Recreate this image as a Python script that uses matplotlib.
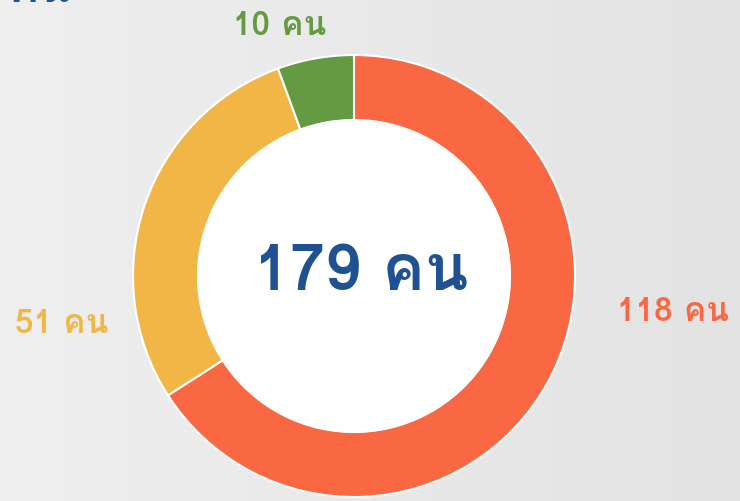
import numpy as np
import matplotlib
matplotlib.use("Agg")
from matplotlib import pyplot as plt
from matplotlib import font_manager

# pick a font that has Thai glyphs if there is one
thai = None
for f in font_manager.fontManager.ttflist:
    if "Thai" in f.name or f.name in ("Loma", "Garuda", "Tlwg Typo", "Kinnari", "Norasi", "Waree", "Sawasdee", "Umpush"):
        thai = f.name
        break
families = ([thai] if thai else []) + ["DejaVu Sans"]
plt.rcParams["font.family"] = families

labels = ["118 คน", "51 คน", "10 คน"]
values = [118, 51, 10]
colors = ["#F96743", "#F2B647", "#649A42"]
total_label = "179 คน"
title_label = "คน"

fig = plt.figure(figsize=(7.4, 5.02), dpi=100)
ax = fig.add_axes([0, 0, 1, 1])

# light grey horizontal gradient background
grad = np.linspace(0, 1, 256).reshape(1, -1)
bg = matplotlib.colors.LinearSegmentedColormap.from_list("bg", ["#EFEFEF", "#E3E3E3"])
ax.imshow(grad, extent=[0, 740, 0, 502], aspect="auto", cmap=bg, zorder=0)

ax.pie(values, colors=colors, startangle=90, counterclock=False,
       center=(354, 225), radius=221, frame=True,
       wedgeprops=dict(width=65, edgecolor="white", linewidth=1.5))
ax.add_patch(plt.Circle((354, 225), 221 - 65, color="white", zorder=3))
ax.set_xlim(0, 740)
ax.set_ylim(0, 502)
ax.set_aspect("equal")
ax.axis("off")

ax.text(361, 228, total_label, ha="center", va="center", fontsize=46, fontweight="bold", color="#1F5193", zorder=4)
ax.text(673, 190, labels[0], ha="center", va="center", fontsize=24, fontweight="bold", color=colors[0])
ax.text(62, 178, labels[1], ha="center", va="center", fontsize=24, fontweight="bold", color=colors[1])
ax.text(280, 476, labels[2], ha="center", va="center", fontsize=24, fontweight="bold", color=colors[2])
# heading that runs off the top edge, as in the source
ax.text(7, 500, title_label, ha="left", va="baseline", fontsize=34, fontweight="bold", color="#1F5193")

fig.savefig("out.png", dpi=100)
